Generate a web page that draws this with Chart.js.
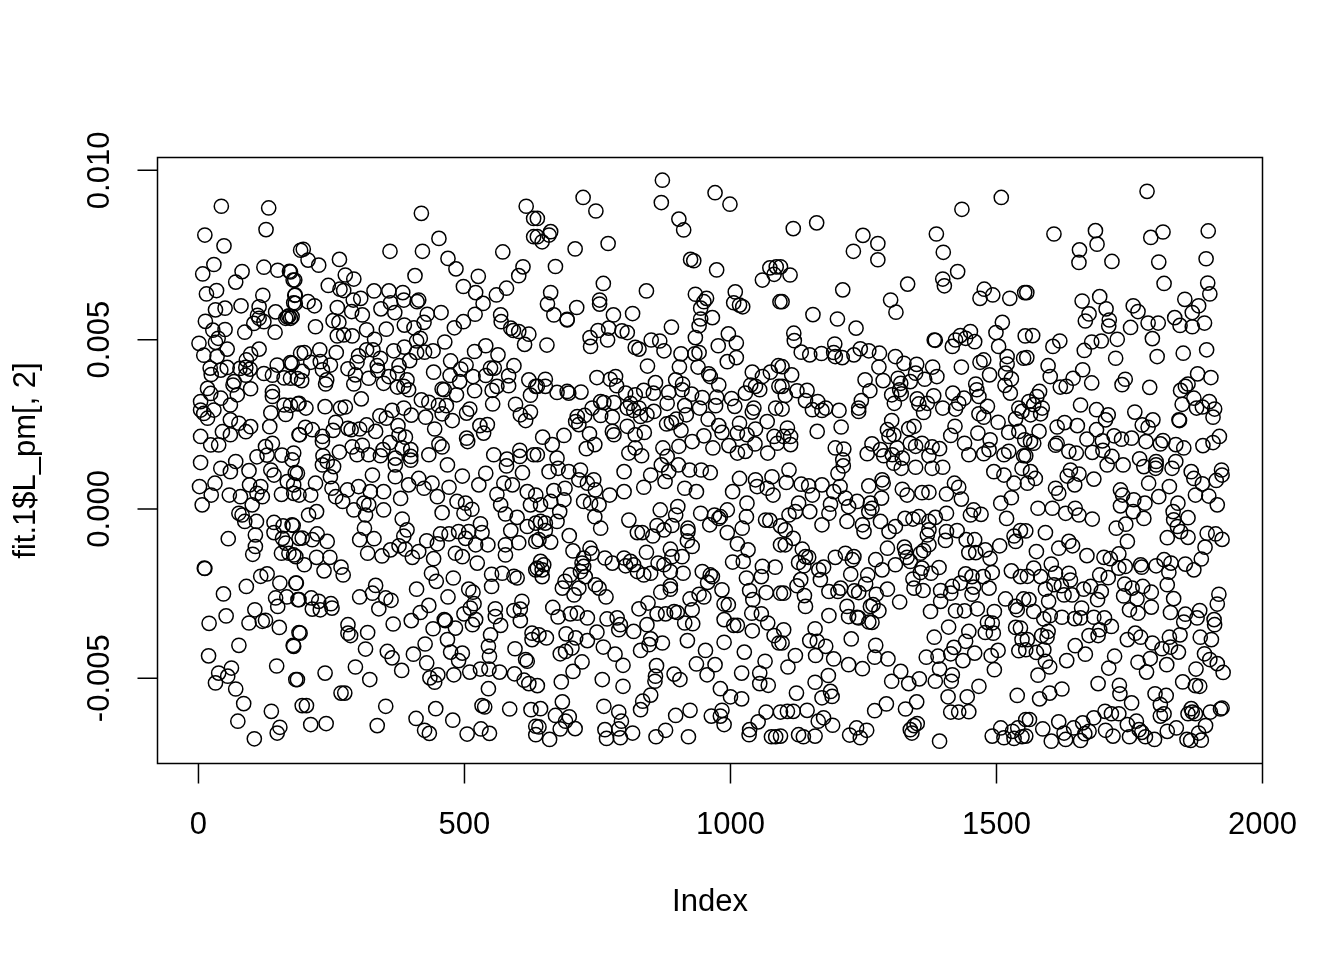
<!DOCTYPE html>
<html><head><meta charset="utf-8">
<style>html,body{margin:0;padding:0;background:#fff}#w{position:relative;width:1344px;height:960px}</style>
<script src="https://cdn.jsdelivr.net/npm/chart.js@4"></script></head>
<body><div id="w"><canvas id="c" width="1344" height="960"></canvas></div>
<script>
// Each list: index, value (in thousandths), index, value, ...
const pointsA=[43,8.94,132,8.89,127,8.25,12,8.09,48,7.77,29,7.22,8,6.94,82,7.01,70,6.7,123,7.14,149,7.05,171,7.02,178,6.76,15,6.35,34,6.45,121,6.31,181,6.31,179,6.09,80,6,32,5.88,50,5.93,114,5.97,111,5.72,145,5.82,167,5.67,164,5.63,170,5.7,13,5.54,104,5.48,123,5.53,114,5.63,50,5.3,27,5.28,87,5.22,144,5.22,37,5.04,1,4.89,32,4.92,54,4.72,10,4.54,114,4.72,98,4.57,35,4.5,90,4.4,22,4.16,42,4.1,54,4.18,78,4.15,97,4.13,89,4.18,123,4,139,3.95,148,4.25,173,4.32,161,3.87,24,3.97,89,3.95,65,3.66,67,3.76,17,3.56,98,3.55,139,3.46,139,3.32,73,3.37,23,3.41,42,3.27,60,3.07,4,3.17,29,2.92,4,2.92,17,2.68,10,2.82,136,2.84,164,2.79,161,3.07,60,2.63,134,2.43,76,2.53,98,2.43,89,2.28,45,2.28,4,2.14,60,2.19,23,1.89,38,1.89,139,1.94,126,1.84,192,7.64,192,4.6,186,3.85,189,3.12,189,2.19];
const pointsB=[4,1.37,42,1.2,70,1.4,60,1.1,95,1.13,136,1.15,142,1,110,1.54,129,1.59,157,1.59,176,1.45,186,1.05,2,.66,31,.76,24,.41,58,.41,79,.36,96,.71,117,.66,110,.46,120,.36,156,.43,167,.81,179,.46,7,.12,101,.12,76,-.13,82,-.18,87,-.37,109,-.37,142,-.4,159,-.5,176,-.47,142,-.7,107,-.77,56,-.88,158,-.87,164,-1.01,189,-.87,107,-1.11,102,-1.34,156,-1.31,170,-1.31,183,-1.41,11,-1.75,12,-1.76,129,-1.92,117,-1.99,90,-2.29,153,-2.19,183,-2.19,47,-2.51,145,-2.63,166,-2.6,189,-2.68,149,-2.88,106,-2.98,52,-3.16,20,-3.38,95,-3.37,120,-3.32,126,-3.29,152,-3.5,189,-3.65,178,-4.03,76,-4.03,19,-4.34,147,-4.64,62,-4.7,38,-4.85,55,-4.94,32,-5.14,183,-5.04,70,-5.32,85,-5.75,195,-5.81,137,-5.98,74,-6.27,153,-6.45,148,-6.62,105,-6.79];
const pointsC=[419,8.73,616,8.94,630,8.58,630,8.04,452,7.99,197,7.67,206,7.35,226,7.2,265,7.37,360,7.61,421,7.61,469,7.4,484,7.09,572,7.59,610,7.15,602,6.89,276,6.91,292,6.79,407,6.89,526,6.87,498,6.57,244,6.6,266,6.49,273,6.45,173,7,181,6.76,330,6.44,358,6.44,384,6.39,521,6.39,579,6.52,560,6.32,305,6.22,291,6.17,386,6.17,411,6.12,414,6.17,361,6.09,535,6.07,182,6.32,182,6.07,206,6.12,218,6,261,5.95,343,5.91,288,5.83,369,5.8,456,5.8,520,5.75,308,5.73,430,5.75,568,5.73,176,5.68,173,5.63,498,5.53,569,5.53,424,5.51,253,5.56,264,5.51,220,5.38,387,5.43,405,5.35,481,5.35,353,5.31,316,5.29,587,5.34,592,5.27,602,5.24,261,5.11,273,5.14,289,5.11,621,5.16,331,5.01,417,5.04,410,4.96,463,4.93,613,4.86,540,4.82,387,4.78,316,4.7,328,4.7,228,4.7,367,4.67,410,4.62,425,4.63,441,4.67,519,4.65,259,4.62,199,4.62,301,4.52,342,4.45,397,4.38,563,4.55,176,4.3,211,4.33,229,4.35,248,4.25,298,4.33,336,4.23,377,4.23,474,4.37,503,4.25,493,4.13,549,4.16,556,4.16,593,4.23,195,4.06,233,4.11,281,4.14,337,4.09,295,3.96,442,4.04,374,4.01,473,3.94,516,3.91,540,3.94,583,3.93,621,3.81,173,3.86,194,3.79,241,3.81,239,3.69,292,3.69,320,3.86,348,3.71,358,3.91,392,3.81,491,3.76,561,3.62,583,3.64,634,3.62,374,3.6,386,3.62,395,3.52,458,3.54,462,3.52,552,3.5,519,3.49,485,3.37,624,3.36,306,3.25,419,3.22,433,3.15,451,3.06,466,3.05,553,3.1,596,3.09,173,3.06,187,3.1,202,2.98,238,3.02,267,2.98,276,3.01,386,2.98,364,2.91,510,2.95,504,2.83,624,2.86,341,2.75,353,2.68,400,2.77,427,2.71,458,2.81,477,2.61,605,2.78,615,2.61,258,2.56,316,2.48,201,2.41,214,2.34,253,2.32,281,2.38,287,2.34,303,2.36,333,2.29,375,2.46,444,2.36,529,2.46,543,2.49,536,2.24,190,2.19,233,2.14,233,1.99,389,2.12,377,2.19,504,2.09,506,1.99,360,1.96,452,1.92,458,1.83,308,1.88,289,1.83,347,1.75,399,1.75,383,1.8,604,1.73,265,1.68,555,1.6,234,1.57,298,1.6,179,1.65,320,1.6,342,1.57,370,1.5,433,1.6,399,1.55,580,1.47,604,1.55,630,1.6];
const pointsD=[468,1.3,496,.97,527,.71,540,1.05,579,1.27,609,1.07,242,1.4,254,1.25,233,1.3,370,1.3,399,1.44,182,1.07,220,.76,248,.95,327,1,370,.95,414,.9,439,.76,471,.64,395,.71,424,.61,574,.76,590,.71,561,.43,618,.51,179,.71,189,.41,211,.41,251,.61,280,.56,301,.66,323,.51,348,.51,380,.31,449,.36,258,.36,271,.22,292,-.03,311,.17,320,.12,348,-.03,486,.22,502,.17,514,-.01,499,-.13,458,-.11,568,.12,577,-.15,624,.12,222,-.08,207,-.18,599,-.25,314,-.18,383,-.3,178,-.49,530,-.44,618,-.52,634,-.42,312,-.57,392,-.62,587,-.64,223,-.74,455,-.74,471,-.74,489,-.67,508,-.67,533,-.7,386,-.8,195,-.86,214,-.91,242,-.96,303,-.91,330,-.88,429,-.94,449,-1.03,502,-.87,521,-1.06,544,-1.06,577,-1.06,602,-1,634,-.96,377,-1.09,361,-1.21,389,-1.19,318,-1.31,345,-1.39,414,-1.26,179,-1.36,222,-1.43,247,-1.43,483,-1.31,496,-1.41,402,-1.43,577,-1.36,442,-1.47,199,-1.65,236,-1.83,268,-1.72,272,-1.95,524,-1.6,634,-1.8,438,-1.9,551,-1.93,571,-1.9,593,-1.99,599,-2.04,447,-2.14,479,-2.04,184,-2.19,551,-2.29,410,-2.37,333,-2.26,327,-2.49,508,-2.37,516,-2.46,303,-2.6,352,-2.63,362,-2.7,469,-2.6,187,-2.68,212,-2.63,226,-2.73,249,-2.8,214,-2.96,251,-2.93,229,-2.98,339,-2.95,433,-2.85,518,-2.8,558,-2.95,608,-2.73,593,-3,605,-2.96,499,-3.1,511,-2.93,417,-3.06,400,-3.3,366,-3.4,605,-3.3,462,-3.27,464,-3.3,521,-3.27,515,-3.42,558,-3.18,568,-3.44,483,-3.52,441,-3.54,281,-3.42,281,-3.67,286,-3.74,318,-3.65,191,-3.67,549,-3.72,627,-3.67,627,-3.86,468,-3.86,179,-4.06,314,-4.14,426,-3.99,545,-4.06,595,-4.13,355,-4.21,364,-4.4,404,-4.29,474,-4.23,496,-4.26,547,-4.35,489,-4.48,615,-4.45,618,-4.5,429,-4.55,295,-4.67,382,-4.77,238,-4.85,322,-5.04,186,-5.04,435,-4.99,450,-4.9,444,-5.12,480,-4.9,510,-4.82,530,-4.73,546,-4.73,566,-4.82,594,-4.87,612,-5.06,621,-5.16,268,-5.44,275,-5.44,545,-5.31,203,-5.81,352,-5.83,446,-5.9,533,-5.81,538,-5.85,585,-5.91,625,-5.93,409,-6.19,478,-6.24,211,-6.37,240,-6.34,336,-6.4,425,-6.54,434,-6.63,505,-6.65,531,-6.5,547,-6.63,634,-6.42,634,-6.67];
const pointsE=[872,9.71,870,9.05,723,9.2,747,8.8,971,9.34,999,9,903,8.56,912,8.24,637,8.58,662,8.19,659,8.09,646,7.89,637,8.04,770,7.84,708,7.68,925,7.37,931,7.33,671,7.16,974,7.06,1074,7.12,1086,7.15,1082,6.93,1060,6.76,761,6.66,842,6.44,662,6.39,934,6.34,1009,6.41,955,6.22,950,6.12,754,6.17,754,6.05,656,6.05,1006,6.09,1017,6.02,1023,5.97,1093,6.12,711,5.95,944,5.93,668,5.73,693,5.6,693,5.58,780,5.73,816,5.77,966,5.65,944,5.61,889,5.37,941,5.41,771,5.34,751,5.27,796,5.26,806,5.21,996,5.17,934,5.06,736,5.06,769,4.99,851,4.99,867,4.96,655,4.84,737,4.8,1011,4.9,977,4.82,821,4.77,828,4.72,875,4.67,907,4.58,941,4.62,933,4.58,1011,4.47,994,4.35,844,4.22,904,4.19,939,4.19,1090,4.23,1041,4.04,1075,4.04,959,3.99,962,3.91,749,3.88,774,3.83,784,3.91,652,3.83,897,3.81,1060,3.91,910,3.69,859,3.73,786,3.64,652,3.62,978,3.66,1038,3.66,1047,3.62,1055,3.52,1091,3.62,637,3.62,674,3.44,693,3.47,696,3.42,719,3.45,837,3.5,855,3.42,884,3.44,909,3.52,927,3.39,803,3.42,821,3.37,1028,3.42,947,3.29,1002,3.26,762,3.14,781,3.14,881,3.12,756,3.17,812,3.12,974,3.3,972,3.05,942,2.98,1008,3.03,914,3.05,1044,2.98,1085,2.98,740,2.98,856,2.88,828,2.98,806,2.98,1041,2.86,726,2.76,756,2.76,778,2.71,818,2.91,831,2.73,843,2.78,712,2.73,917,2.78,898,2.65,958,2.65,709,2.58,715,2.49,880,2.51,889,2.55,978,2.46,1017,2.53,1069,2.58,806,2.44,778,2.29,781,2.19,821,2.19,838,2.26,907,2.32,984,2.26,1013,2.24,1047,2.36,735,2.22,647,2.12,687,2.17,950,2.16,1031,2.19,1082,2.14,928,1.99,665,1.9,745,1.9,729,1.78,873,1.8,903,1.85,967,1.8,997,1.87,1046,1.92,1088,1.94,809,1.65,821,1.8,833,1.57,1028,1.7,1013,1.65,1070,1.65,674,1.5,881,1.55,637,1.6];
const pointsF=[800,1.1,850,1,837,.64,877,.81,884,1.1,870,1.3,902,1.3,923,1.15,945,1.15,962,1.07,914,.61,936,.51,800,.51,773,.41,659,1.1,676,1.2,696,1.1,718,1.15,715,.86,731,.76,743,.86,746,.56,689,.61,668,.54,1017,.9,1047,.86,1078,.95,1004,.51,1050,.66,1069,.61,1080,.41,634,.41,662,.22,687,.27,724,.22,737,.17,753,.12,643,.12,679,-.08,1031,.17,868,-.03,901,.07,944,-.13,970,-.18,994,-.03,978,-.28,981,-.23,745,-.23,809,-.33,674,-.37,643,-.37,652,-.42,756,-.57,897,-.18,890,-.49,1030,-.23,1066,-.33,1074,-.34,1094,-.5,961,-.47,1022,-.57,862,-.49,875,-.62,652,-.64,697,-.79,825,-.7,834,-.7,854,-.8,920,-.57,920,-.67,994,-.7,662,-.98,640,-.91,1013,-1.03,919,-.94,928,-1.11,1094,-1.06,704,-1.24,736,-1.16,842,-1.28,887,-1.19,1033,-1.21,740,-1.31,724,-1.45,764,-1.45,800,-1.45,890,-1.41,909,-1.41,778,-1.6,643,-1.55,649,-1.65,812,-1.55,803,-1.68,818,-1.65,721,-1.6,724,-1.7,875,-1.65,1004,-1.57,1024,-1.55,1060,-1.7,1084,-1.72,637,-1.75,646,-1.8,718,-1.85,825,-1.85,837,-1.95,850,-1.9,864,-1.6,887,-1.85,911,-1.9,947,-1.85,962,-1.95,966,-2,646,-2,699,-1.95,727,-2,1030,-2.04,1058,-2,689,-2.14,957,-2.17,684,-2.34,706,-2.54,715,-2.34,746,-2.24,753,-2.34,869,-2.46,887,-2.27,887,-2.37,984,-2.39,1036,-2.41,1067,-2.47,1094,-2.49,766,-2.6,941,-2.52,950,-2.6,924,-2.66,1042,-2.68,845,-2.78,828,-2.95,666,-2.91,988,-2.81,996,-2.83,928,-2.98,699,-3.1,712,-3.08,731,-3.22,676,-3.19,768,-3.25,787,-3.22,862,-3.1,878,-3.1,894,-3.03,900,-3.06,1040,-3.08,1058,-3.1,988,-3.27,914,-3.37,929,-3.39,843,-3.42,793,-3.42,790,-3.57,1006,-3.44,1013,-3.44,1070,-3.37,1041,-3.6,818,-3.62,749,-3.64,691,-3.69,1082,-3.74,640,-3.72,654,-3.81,709,-3.81,731,-3.89,850,-3.84,872,-3.96,847,-4.01,919,-3.89,988,-3.94,1091,-3.96,702,-4.11,690,-4.21,680,-4.28,761,-4.08,831,-4.18,783,-4.29,953,-4.18,1026,-4.23,721,-4.52,798,-4.62,936,-4.58,971,-4.6,1065,-4.5,861,-4.63,704,-4.8,956,-4.9,1021,-4.85,1055,-4.85,859,-4.94,894,-4.88,682,-5.11,759,-5.04,905,-5.04,858,-5.09,798,-5.24,1055,-5.16,1071,-5.21,637,-5.22,981,-5.31,850,-5.5,1000,-5.55,1021,-5.61,835,-5.68,684,-5.7,762,-5.83,643,-5.9,831,-5.93,790,-6,984,-5.95,924,-5.95,897,-6.1,964,-6.12,1067,-6,1094,-6,671,-6.1,697,-6.14,981,-6.12,1052,-6.29,690,-6.27,988,-6.37,795,-6.27,640,-6.44,680,-6.5,708,-6.49,764,-6.52,790,-6.5,816,-6.62,1036,-6.52,1035,-6.67,878,-6.54,660,-6.81,767,-6.78,793,-6.76,860,-6.73,921,-6.73,1077,-6.73,1085,-6.73];
const pointsG=[1509,9.2,1435,8.85,1162,8.45,1118,8.28,1249,8.08,1387,8.12,1277,7.84,1231,7.61,1400,7.58,1277,7.36,1427,7.01,1112,6.91,1094,7.15,1399,6.79,1333,6.64,1402,6.59,1211,6.47,1477,6.49,1493,6.32,1469,6.22,1525,6.22,1553,6.39,1301,6.17,1097,6.12,1311,5.81,1155,5.74,1201,5.61,1511,5.51,1236,5.34,1499,5.21,1119,5.19,1451,5.24,1432,5.12,1423,4.99,1383,4.99,1385,4.98,1442,5.04,1459,4.94,1120,4.97,1196,4.87,1554,5.11,1417,4.8,1504,4.8,1244,4.73,1260,4.67,1133,4.63,1149,4.55,1171,4.59,1194,4.62,1197,4.5,1210,4.47,1232,4.55,1280,4.6,1310,4.5,1520,4.5,1551,4.45,1476,4.4,1469,4.33,1326,4.3,1350,4.27,1380,4.19,1279,4.19,1434,4.19,1520,4.28,1097,4.2,1115,3.96,1348,4.01,1487,3.96,1517,4.01,1253,3.81,1287,3.79,1315,3.86,1388,3.91,1365,3.83,1338,3.76,1528,3.84,1461,3.69,1516,3.65,1097,3.62,1144,3.5,1125,3.49,1262,3.49,1320,3.71,1318,3.52,1463,3.52,1418,3.42,1526,3.42,1103,3.35,1303,3.37,1321,3.4,1382,3.34,1467,3.32,1141,3.2,1164,3.17,1246,3.2,1351,3.25,1439,3.27,1308,3.12,1354,3.1,1370,3.12,1429,3.12,1483,3.03,1241,2.98,1097,2.95,1154,2.93,1179,2.98,1172,2.91,1204,2.91,1241,2.88,1399,2.98,1423,2.95,1363,2.85,1542,2.98,1548,2.88,1467,2.81,1476,2.71,1536,2.66,1503,2.56,1303,2.61,1345,2.44,1335,2.37,1208,2.42,1163,2.29,1107,2.39,1295,2.34,1422,2.44,1465,2.24,1523,2.26,1542,2.29,1100,2.14,1113,2.14,1307,2.19,1298,2.14,1414,2.17,1488,2.04,1553,2.04,1113,1.9,1197,1.8,1213,1.77,1266,1.92,1313,1.8,1338,1.94,1360,1.94,1440,1.94,1486,1.75,1282,1.75,1348,1.85,1379,1.83,1393,1.78,1523,1.7,1257,1.63,1448,1.6,1476,1.63,1514,1.6,1304,1.6,1323,1.5,1373,1.57,1551,1.57,1288,1.57,1211,1.45];
const pointsH=[1212,1.27,1110,1.15,1202,1.05,1105,.78,1133,.73,1147,.68,1172,.71,1206,.66,1154,.41,1194,.51,1260,.68,1285,.86,1287,.76,1323,.58,1332,.41,1360,.48,1373,.49,1406,.44,1421,.76,1429,.64,1434,.29,1348,1.23,1379,1.2,1399,1.23,1321,1.2,1307,1.35,1495,1.1,1514,1,1548,1.2,1533,.76,1528,.33,1508,.17,1284,.32,1216,.32,1238,.22,1263,.17,1128,.17,1188,.14,1222,.07,1149,-.08,1122,-.08,1110,-.18,1185,-.13,1266,.02,1260,-.08,1457,-.03,1471,-.16,1451,-.18,1406,-.13,1519,-.28,1328,-.28,1343,-.3,1354,-.23,1385,-.25,1373,-.37,1172,-.47,1219,-.37,1282,-.37,1248,-.47,1310,-.52,1251,-.67,1103,-.62,1298,-.67,1373,-.62,1406,-.67,1426,-.64,1545,-.64,1533,-.8,1536,-.96,1118,-.87,1103,-1.06,1373,-1.06,1404,-.93,1370,-.77,1443,-.91,1459,-.91,1506,-1.09,1135,-1.19,1295,-1.16,1327,-1.13,1329,-1.26,1448,-1.29,1461,-1.29,1479,-1.21,1363,-1.23,1216,-1.31,1197,-1.43,1141,-1.41,1147,-1.43,1232,-1.41,1332,-1.43,1357,-1.31,1488,-1.46,1273,-1.5,1128,-1.58,1138,-1.68,1229,-1.5,1338,-1.55,1310,-1.65,1392,-1.73,1175,-1.72,1285,-1.8,1166,-1.8,1360,-1.75,1357,-1.88,1377,-1.9,1492,-1.88,1528,-1.83,1545,-2,1226,-1.93,1132,-2.09,1169,-2.09,1258,-1.95,1442,-1.92,1454,-2,1475,-2,1343,-2.07,1254,-2.22,1125,-2.27,1432,-2.19,1417,-2.29,1207,-2.34,1295,-2.37,1345,-2.34,1362,-2.41,1486,-2.34,1457,-2.31,1100,-2.49,1185,-2.44,1202,-2.44,1233,-2.42,1241,-2.47,1395,-2.41,1414,-2.49,1454,-2.52,1274,-2.52,1139,-2.56,1395,-2.73,1318,-2.75,1517,-2.66,1551,-2.66,1141,-2.88,1219,-2.88,1268,-2.83,1263,-2.88,1536,-2.88,1539,-2.98,1279,-3.01,1423,-3.01,1440,-3.01,1464,-2.95,1496,-3.03,1376,-3.03,1185,-3.15,1222,-3.18,1238,-3.2,1241,-3.22,1260,-3.34,1266,-3.35,1483,-3.35,1492,-3.37,1410,-3.49,1536,-3.5,1545,-3.52,1100,-3.57,1159,-3.54,1448,-3.62,1479,-3.65,1494,-3.67,1227,-3.84,1383,-3.79,1149,-3.89,1163,-3.91,1548,-3.86,1097,-3.96,1442,-3.91,1273,-4.03,1179,-4.06,1420,-4.09,1503,-4.18,1542,-4.19,1122,-4.33,1160,-4.33,1271,-4.38,1368,-4.38,1390,-4.35,1414,-4.28,1459,-4.26,1490,-4.33,1194,-4.43,1296,-4.43,1437,-4.48,1222,-4.6,1248,-4.72,1108,-4.67,1496,-4.75,1393,-4.73,1184,-4.92,1320,-4.8,1417,-4.9,1355,-5.02,1303,-5.09,1335,-5.16,1385,-5.09,1415,-5.09,1159,-5.12,1467,-5.24,1124,-5.44,1188,-5.39,1191,-5.54,1172,-5.58,1409,-5.55,1445,-5.55,1539,-5.51,1350,-5.7,1293,-5.76,1107,-5.98,1118,-5.98,1144,-5.95,1271,-5.96,1329,-5.91,1414,-6,1429,-6,1448,-5.99,1175,-6.17,1165,-6.27,1192,-6.39,1351,-6.34,1345,-6.4,1237,-6.47,1256,-6.54,1338,-6.52,1341,-6.62,1555,-6.22,1508,-6.47,1540,-6.47,1530,-6.57,1128,-6.67,1137,-6.73,1159,-6.71,1224,-6.68,1244,-6.76,1492,-6.71,1514,-6.76,1533,-6.78,1548,-6.73,1393,-6.86,1094,-6.71];
const pointsI=[1783,9.38,1608,8.12,1686,8.22,1689,7.82,1813,8.18,1790,8.02,1898,8.21,1656,7.65,1655,7.28,1717,7.31,1805,7.29,1894,7.39,1815,6.66,1897,6.67,1901,6.35,1557,6.39,1694,6.27,1661,6.14,1854,6.19,1880,6,1757,6,1766,5.83,1706,5.91,1674,5.76,1667,5.55,1712,5.58,1711,5.4,1868,5.8,1835,5.65,1845,5.42,1868,5.38,1891,5.49,1785,5.49,1804,5.49,1752,5.36,1568,5.12,1619,4.96,1606,4.8,1679,4.93,1697,4.96,1727,5.01,1793,5.03,1665,4.68,1724,4.45,1802,4.5,1851,4.6,1895,4.7,1557,4.47,1597,4.23,1662,4.11,1601,3.91,1644,3.86,1878,3.99,1903,3.88,1620,3.6,1631,3.62,1679,3.72,1742,3.83,1736,3.67,1788,3.59,1860,3.69,1855,3.62,1846,3.5,1581,3.47,1576,3.32,1561,3.17,1871,3.27,1849,3.09,1900,3.17,1876,2.98,1887,3.01,1910,2.95,1586,2.98,1570,3.08,1583,2.81,1564,2.78,1658,3.07,1688,2.93,1760,2.86,1710,2.78,1705,2.63,1794,2.63,1774,2.48,1785,2.41,1907,2.71,1844,2.61,1843,2.63,1628,2.55,1614,2.42,1652,2.46,1580,2.29,1688,2.34,1721,2.16,1735,2.06,1754,2.09,1670,2.06,1699,2.01,1919,2.14,1564,1.99,1570,1.94,1614,1.94,1611,1.88,1781,1.99,1813,2.02,1808,1.92,1837,1.9,1852,1.8,1888,1.87,1907,1.96,1636,1.7,1650,1.65,1680,1.67,1700,1.73,1717,1.55,1555,1.57,1769,1.48,1800,1.4,1837,1.4];
const pointsJ=[1564,1.1,1573,.9,1558,.76,1639,1.15,1655,1.03,1633,.97,1647,.71,1683,.88,1611,.61,1617,.46,1708,1.3,1738,1.3,1777,1.25,1799,1.2,1800,1.3,1830,1.2,1866,1.1,1871,.9,1887,.74,1913,.84,1923,1.15,1924,1,1786,.76,1825,.66,1805,.36,1874,.41,1899,.38,1733,.56,1737,.41,1758,.27,1779,.17,1915,.12,1841,.17,1578,.02,1605,.02,1630,-.13,1648,.02,1655,-.18,1680,-.3,1733,.09,1757,-.08,1777,-.28,1832,-.08,1860,-.26,1743,-.45,1725,-.57,1833,-.32,1840,-.52,1555,-.65,1592,-.7,1821,-.85,1846,-.67,1860,-.84,1896,-.72,1912,-.74,1924,-.9,1746,-.96,1636,-.96,1617,-1.16,1643,-1.09,1892,-1.13,1575,-1.26,1670,-1.38,1702,-1.43,1730,-1.33,1714,-1.47,1885,-1.48,1815,-1.5,1828,-1.6,1855,-1.63,1800,-1.68,1771,-1.65,1773,-1.72,1742,-1.7,1730,-1.75,1871,-1.8,1603,-1.63,1570,-1.75,1824,-1.87,1636,-1.9,1611,-1.9,1583,-2,1558,-1.99,1694,-1.95,1710,-2.03,1639,-2.1,1608,-2.24,1592,-2.37,1622,-2.27,1821,-2.24,1741,-2.22,1755,-2.34,1775,-2.29,1677,-2.29,1664,-2.37,1697,-2.44,1791,-2.46,1627,-2.54,1642,-2.54,1918,-2.52,1739,-2.57,1690,-2.68,1764,-2.66,1833,-2.65,1598,-2.73,1561,-2.68,1915,-2.81,1791,-2.9,1660,-2.93,1570,-3.03,1750,-2.98,1766,-3.08,1827,-3.06,1882,-3,1855,-3.11,1601,-3.15,1589,-3.25,1623,-3.2,1647,-3.24,1658,-3.22,1683,-3.2,1703,-3.22,1877,-3.22,1852,-3.34,1909,-3.27,1910,-3.42,1716,-3.47,1694,-3.57,1674,-3.74,1691,-3.74,1761,-3.67,1597,-3.62,1585,-3.74,1595,-3.79,1845,-3.72,1883,-3.79,1558,-3.86,1746,-3.86,1771,-3.79,1825,-3.79,1904,-3.86,1793,-3.96,1648,-4.04,1555,-4.16,1575,-4.24,1589,-4.16,1827,-4.08,1811,-4.13,1842,-4.23,1667,-4.29,1722,-4.35,1891,-4.28,1789,-4.42,1901,-4.45,1632,-4.48,1592,-4.5,1766,-4.53,1820,-4.6,1711,-4.7,1915,-4.57,1600,-4.67,1875,-4.73,1782,-4.82,1926,-4.83,1578,-4.91,1691,-5.16,1850,-5.11,1731,-5.21,1874,-5.22,1882,-5.24,1623,-5.32,1600,-5.44,1732,-5.46,1798,-5.46,1581,-5.61,1819,-5.51,1754,-5.73,1808,-5.78,1704,-5.98,1866,-5.9,1868,-6,1860,-6.05,1921,-5.91,1924,-5.88,1902,-6,1716,-6.05,1730,-6.05,1815,-6.05,1808,-6.12,1874,-6.05,1562,-6.22,1683,-6.17,1617,-6.29,1662,-6.32,1763,-6.27,1746,-6.37,1893,-6.4,1587,-6.5,1645,-6.47,1705,-6.54,1627,-6.62,1674,-6.57,1666,-6.64,1768,-6.52,1773,-6.6,1821,-6.57,1838,-6.47,1719,-6.71,1750,-6.73,1780,-6.73,1880,-6.62,1555,-6.71,1603,-6.86,1630,-6.81,1658,-6.84,1797,-6.81,1858,-6.81,1865,-6.84,1885,-6.83];
const xTicks=[0,500,1000,1500,2000];
const yTicks=[-0.005,0,0.005,0.01];
const yLabels=['-0.005','0.000','0.005','0.010'];
const FONT="'Liberation Sans',Arial,sans-serif";
const L=157.5,R=1262.5,T=157.5,B=763.5;
const allLists=[pointsA,pointsB,pointsC,pointsD,pointsE,pointsF,pointsG,pointsH,pointsI,pointsJ];
const points=[];
allLists.forEach(l=>{for(let i=0;i<l.length;i+=2)points.push({x:l[i],y:l[i+1]/1000})});
new Chart(document.getElementById('c'),{
 type:'scatter',
 data:{datasets:[{data:points,pointStyle:'circle',pointRadius:7.1,pointBorderWidth:1.5,pointBorderColor:'#000',pointBackgroundColor:'rgba(0,0,0,0)',showLine:false,clip:false}]},
 options:{responsive:false,animation:false,events:[],
  plugins:{legend:{display:false},tooltip:{enabled:false}},
  scales:{
   x:{type:'linear',min:-77,max:2000,
      afterBuildTicks:a=>{a.ticks=xTicks.map(v=>({value:v}))},
      afterFit:a=>{a.paddingLeft=0;a.paddingRight=0;a.height=960-B},
      grid:{display:false,drawTicks:false},border:{display:false},
      ticks:{color:'#000',font:{family:FONT,size:31},padding:43,maxRotation:0,minRotation:0,autoSkip:false,callback:v=>String(v)},
      title:{display:false}},
   y:{type:'linear',min:-0.00752,max:0.01038,
      afterBuildTicks:a=>{a.ticks=yTicks.map(v=>({value:v}))},
      afterFit:a=>{a.width=L;a.paddingTop=0;a.paddingBottom=0},
      grid:{display:false,drawTicks:false},border:{display:false},
      ticks:{color:'#000',font:{family:FONT,size:31},padding:13,crossAlign:'center',minRotation:90,maxRotation:90,autoSkip:false,
        callback:v=>yLabels[yTicks.findIndex(t=>Math.abs(t-v)<1e-9)]},
      title:{display:false}}
  },
  layout:{padding:{left:0,right:1344-R,top:T,bottom:0}}
 },
 plugins:[{id:'frame',afterDraw(ch){
   const c=ch.ctx,a=ch.chartArea,xs=ch.scales.x,ys=ch.scales.y;
   c.save();c.strokeStyle='#000';c.lineWidth=1.5;c.beginPath();
   c.rect(a.left,a.top,a.right-a.left,a.bottom-a.top);
   xTicks.forEach(v=>{const p=xs.getPixelForValue(v);c.moveTo(p,a.bottom);c.lineTo(p,a.bottom+20)});
   yTicks.forEach(v=>{const p=ys.getPixelForValue(v);c.moveTo(a.left,p);c.lineTo(a.left-20,p)});
   c.stroke();
   c.fillStyle='#000';c.font="31px "+FONT;c.textAlign='center';c.textBaseline='alphabetic';
   c.fillText('Index',710,911);
   c.translate(35,460.5);c.rotate(-Math.PI/2);c.fillText('fit.1$L_pm[, 2]',0,0);
   c.restore();
 }}]
});
</script></body></html>
